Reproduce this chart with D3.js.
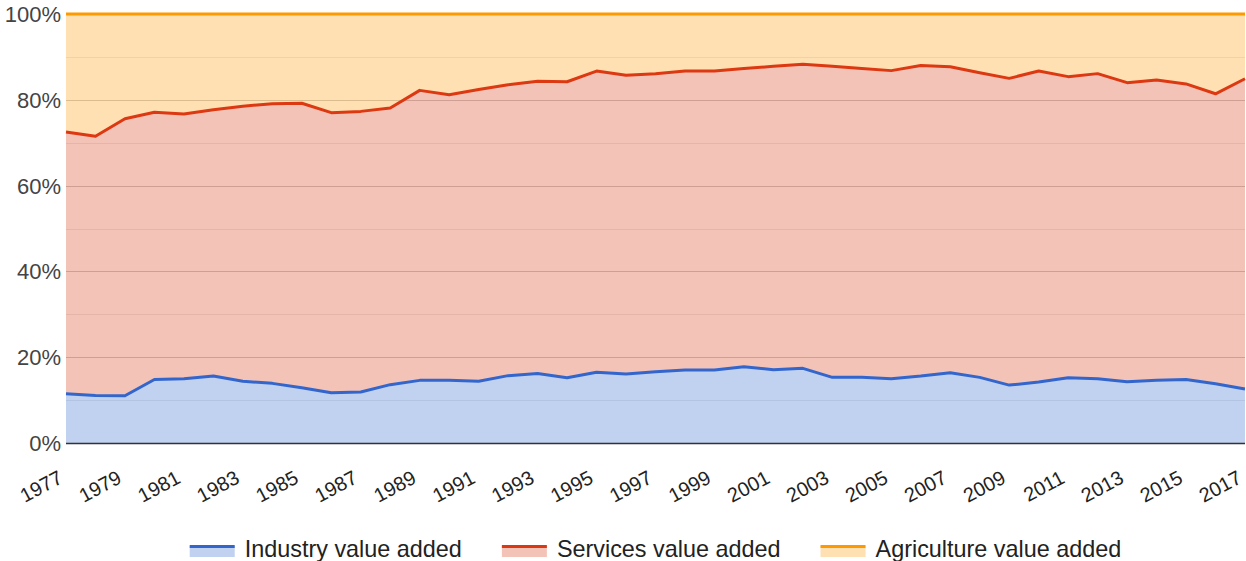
<!DOCTYPE html>
<html>
<head>
<meta charset="utf-8">
<script src="https://cdn.jsdelivr.net/npm/d3@7"></script>
<style>
  html, body { margin: 0; padding: 0; background: #fff; }
  svg { display: block; font-family: "Liberation Sans", Arial, sans-serif; }
</style>
</head>
<body>
<svg id="chart" width="1246" height="561"></svg>
<script>
const years = d3.range(1977, 2018);
const industry = [11.5, 11.1, 11.0, 14.8, 15.0, 15.6, 14.4, 13.9, 12.9, 11.7, 11.9, 13.6, 14.6, 14.6, 14.4, 15.7, 16.2, 15.2, 16.5, 16.1, 16.6, 17.0, 17.0, 17.8, 17.1, 17.4, 15.3, 15.3, 15.0, 15.6, 16.4, 15.3, 13.5, 14.2, 15.2, 15.0, 14.3, 14.6, 14.8, 13.8, 12.6];
const services = [61.0, 60.4, 64.6, 62.3, 61.7, 62.1, 64.1, 65.2, 66.3, 65.3, 65.4, 64.5, 67.6, 66.6, 68.0, 67.8, 68.1, 69.0, 70.2, 69.6, 69.5, 69.7, 69.7, 69.5, 70.7, 70.9, 72.5, 72.0, 71.8, 72.4, 71.3, 71.0, 71.5, 72.5, 70.2, 71.1, 69.7, 70.0, 68.9, 67.6, 72.3];
const agriculture = [27.5, 28.5, 24.4, 22.9, 23.3, 22.3, 21.5, 20.9, 20.8, 23.0, 22.7, 21.9, 17.8, 18.8, 17.6, 16.5, 15.7, 15.8, 13.3, 14.3, 13.9, 13.3, 13.3, 12.7, 12.2, 11.7, 12.2, 12.7, 13.2, 12.0, 12.3, 13.7, 15.0, 13.3, 14.6, 13.9, 16.0, 15.4, 16.3, 18.6, 15.1];
const seriesNames = ["Industry value added", "Services value added", "Agriculture value added"];
const seriesColors = ["#3366cc", "#dc3912", "#ff9900"];
const yTicks = [0, 0.2, 0.4, 0.6, 0.8, 1.0];
const xTickYears = years.filter((yr, i) => i % 2 === 0);

const rows = years.map((yr, i) => ({ year: yr, ind: industry[i], ser: services[i], agr: agriculture[i] }));
const keys = ["ind", "ser", "agr"];

const svg = d3.select("#chart");
const pLeft = 66, pRight = 1245, pTop = 14, pBottom = 443;

const x = d3.scaleLinear().domain([1977, 2017]).range([pLeft, pRight]);
const y = d3.scaleLinear().domain([0, 1]).range([pBottom, pTop]);

const stacked = d3.stack().keys(keys).offset(d3.stackOffsetExpand)(rows);

// gridlines (minor then major)
const gMinor = [0.1, 0.3, 0.5, 0.7, 0.9];
svg.append("g").selectAll("line").data(gMinor).join("line")
  .attr("x1", pLeft).attr("x2", pRight)
  .attr("y1", d => Math.round(y(d)) + 0.5).attr("y2", d => Math.round(y(d)) + 0.5)
  .attr("stroke", "#ebebeb").attr("stroke-width", 1);
svg.append("g").selectAll("line").data(yTicks.filter(d => d > 0 && d < 1)).join("line")
  .attr("x1", pLeft).attr("x2", pRight)
  .attr("y1", d => Math.round(y(d)) + 0.5).attr("y2", d => Math.round(y(d)) + 0.5)
  .attr("stroke", "#cccccc").attr("stroke-width", 1);

const area = d3.area().x(d => x(d.data.year)).y0(d => y(d[0])).y1(d => y(d[1]));
const line = d3.line().x(d => x(d.data.year)).y(d => y(d[1]));

svg.append("g").selectAll("path").data(stacked).join("path")
  .attr("d", area)
  .attr("fill", (d, i) => seriesColors[i])
  .attr("fill-opacity", 0.3);

// baseline
svg.append("line").attr("x1", pLeft).attr("x2", pRight)
  .attr("y1", pBottom + 0.5).attr("y2", pBottom + 0.5)
  .attr("stroke", "#333").attr("stroke-width", 1.5);

svg.append("g").selectAll("path").data(stacked).join("path")
  .attr("d", line)
  .attr("fill", "none")
  .attr("stroke", (d, i) => seriesColors[i])
  .attr("stroke-width", 3)
  .attr("stroke-linejoin", "round");

// y axis labels
svg.append("g").selectAll("text").data(yTicks).join("text")
  .attr("x", pLeft - 5).attr("y", d => y(d))
  .attr("dy", "0.36em")
  .attr("text-anchor", "end")
  .attr("font-size", 22)
  .attr("fill", "#444")
  .text(d => d3.format(".0%")(d));

// x axis labels, rotated
svg.append("g").selectAll("text").data(xTickYears).join("text")
  .attr("transform", d => `translate(${x(d) - 2},${pBottom + 39}) rotate(-28)`)
  .attr("text-anchor", "end")
  .attr("font-size", 20)
  .attr("fill", "#222")
  .text(d => d);

// legend
const legend = svg.append("g");
const swW = 45, gapText = 10, gapItem = 40, legY = 549;
const items = [];
seriesNames.forEach((name, i) => {
  const g = legend.append("g");
  g.append("rect").attr("x", 0).attr("y", legY - 3).attr("width", swW).attr("height", 11)
    .attr("fill", seriesColors[i]).attr("fill-opacity", 0.3);
  g.append("line").attr("x1", 0).attr("x2", swW).attr("y1", legY - 2.5).attr("y2", legY - 2.5)
    .attr("stroke", seriesColors[i]).attr("stroke-width", 3);
  const t = g.append("text").attr("x", swW + gapText).attr("y", legY).attr("dy", "0.35em")
    .attr("font-size", 23.4).attr("fill", "#222").text(name);
  const w = swW + gapText + t.node().getComputedTextLength();
  items.push({ g, w });
});
const total = d3.sum(items, d => d.w) + gapItem * (items.length - 1);
let pos = (pLeft + pRight) / 2 - total / 2;
items.forEach(it => { it.g.attr("transform", `translate(${pos},0)`); pos += it.w + gapItem; });
</script>
</body>
</html>
